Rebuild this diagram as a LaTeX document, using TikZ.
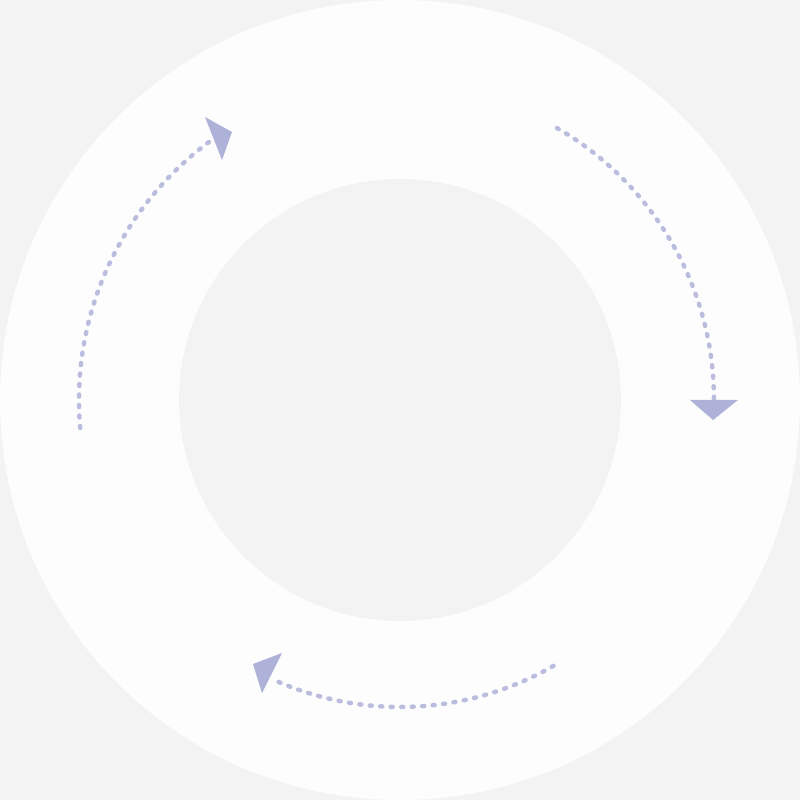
\documentclass[tikz,border=0pt]{standalone}
\definecolor{bgc}{RGB}{243,243,243}
\definecolor{ringc}{RGB}{253,253,253}
\definecolor{arrc}{RGB}{174,178,216}
\begin{document}
\begin{tikzpicture}
        \fill[bgc] (-4,-4) rectangle(4,4);
        \fill[ringc] (0,0) circle(4);
        \fill[bgc] (0,0) circle(2.21);
        \tikzset{dots/.style={arrc!85!white,line width=.045cm,line cap=round,dash pattern=on .02cm off .085cm}}
        \draw[dots] (60:3.14) arc(60:0:3.14);
        \fill[arrc] (2.90,0)--(3.38,0)--(3.13,-.20)--cycle;
        \draw[dots] (185:3.21) arc(185:125:3.21);
        \fill[arrc] (-1.95,2.83)--(-1.68,2.68)--(-1.78,2.40)--cycle;
        \draw[dots] (-60:3.07) arc(-60:-114:3.07);
        \fill[arrc] (-1.47,-2.64)--(-1.18,-2.53)--(-1.38,-2.93)--cycle;
    \end{tikzpicture}
\end{document}
